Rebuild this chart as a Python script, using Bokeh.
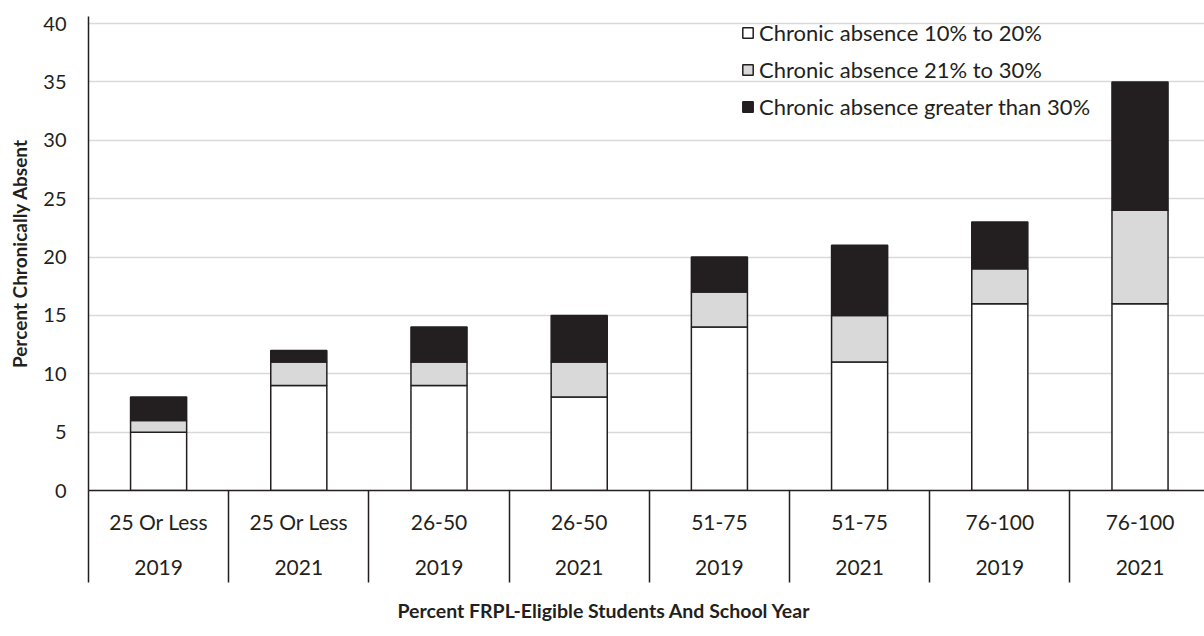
from bokeh.plotting import figure
from bokeh.models import FixedTicker, LinearAxis, Range1d, Grid, ColumnDataSource, Title
from bokeh.embed import file_html
from bokeh.resources import INLINE

groups = ["25 Or Less", "25 Or Less", "26-50", "26-50", "51-75", "51-75", "76-100", "76-100"]
years = ["2019", "2021", "2019", "2021", "2019", "2021", "2019", "2021"]
low = [5, 9, 9, 8, 14, 11, 16, 16]
mid = [1, 2, 2, 3, 3, 4, 3, 8]
high = [2, 1, 3, 4, 3, 6, 4, 11]
series_names = ["Chronic absence 10% to 20%", "Chronic absence 21% to 30%",
                "Chronic absence greater than 30%"]
y_ticks = [0, 5, 10, 15, 20, 25, 30, 35, 40]

FONT = "Lato"
INK = "#231f20"

centers = [i + 0.5 for i in range(len(groups))]
bounds = list(range(len(groups) + 1))
src = ColumnDataSource(dict(x=centers, low=low, mid=mid, high=high))

p = figure(width=1204, height=636, x_range=Range1d(0, 7.96), y_range=Range1d(0, 40.6),
           output_backend="svg", toolbar_location=None,
           x_axis_location=None, y_axis_location=None,
           min_border_left=88, min_border_top=16, min_border_bottom=145, min_border_right=0)
p.outline_line_color = None
p.grid.visible = False
p.background_fill_color = "white"

ygrid = Grid(dimension=1, ticker=FixedTicker(ticks=y_ticks[1:]),
             grid_line_color="#d9d9d9", grid_line_width=1.5)
p.add_layout(ygrid)

yaxis = LinearAxis(ticker=FixedTicker(ticks=y_ticks),
                   axis_label="Percent Chronically Absent",
                   axis_label_text_font=FONT, axis_label_text_font_style="bold",
                   axis_label_text_font_size="19px", axis_label_text_color=INK,
                   axis_label_standoff=9,
                   major_label_text_font=FONT, major_label_text_font_size="20px",
                   major_label_text_color=INK, major_label_standoff=16,
                   major_tick_line_color=None, minor_tick_line_color=None,
                   axis_line_color=INK, axis_line_width=1.5)
p.add_layout(yaxis, "left")

xaxis = LinearAxis(ticker=FixedTicker(ticks=centers, minor_ticks=bounds),
                   major_label_overrides={c: f"{g}\n{y}" for c, g, y in zip(centers, groups, years)},
                   major_label_text_font=FONT, major_label_text_font_size="21px",
                   major_label_text_color=INK, major_label_text_line_height=1.8,
                   major_label_standoff=-74,
                   major_tick_line_color=None,
                   minor_tick_in=0, minor_tick_out=92, minor_tick_line_color=INK,
                   minor_tick_line_width=1.5,
                   axis_line_color=INK, axis_line_width=1.5)
p.add_layout(xaxis, "below")

xtitle = Title(text="Percent FRPL-Eligible Students And School Year", align="left",
               offset=309, standoff=30, text_font=FONT, text_font_style="bold",
               text_font_size="19.5px", text_color=INK)
p.add_layout(xtitle, "below")

p.vbar_stack(["low", "mid", "high"], x="x", width=0.4, source=src,
             fill_color=["white", "#d9d9d9", INK], line_color=INK, line_width=1.5,
             legend_label=series_names)

lg = p.legend[0]
lg.location = (653, 370)
lg.label_text_font = FONT
lg.label_text_font_size = "22px"
lg.label_text_color = INK
lg.background_fill_alpha = 0
lg.border_line_color = None
lg.glyph_width = 13
lg.glyph_height = 13
lg.label_height = 20
lg.spacing = 10
lg.padding = 0
lg.margin = 0
lg.label_standoff = 5

open("out.html", "w").write(file_html(p, INLINE))
